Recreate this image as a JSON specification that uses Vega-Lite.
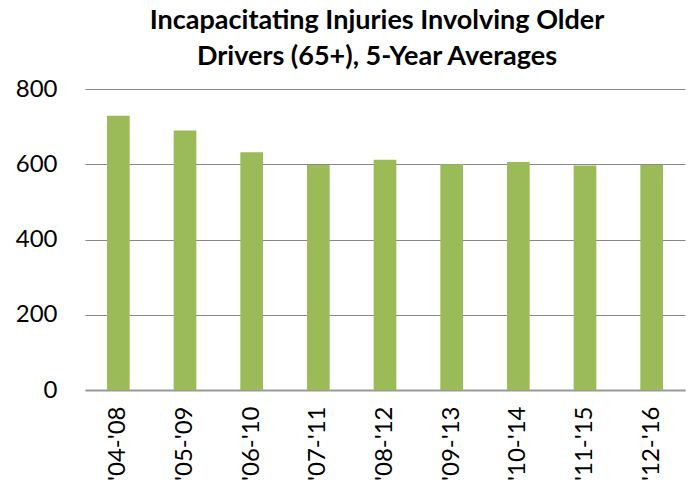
{
  "$schema": "https://vega.github.io/schema/vega-lite/v6.json",
  "autosize": "none",
  "width": 600,
  "height": 301,
  "padding": {"left": 85, "top": 89, "right": 5, "bottom": 96},
  "background": "white",
  "title": {
    "text": ["Incapacitating Injuries Involving Older", "Drivers (65+), 5-Year Averages"],
    "font": "Lato",
    "fontWeight": "bold",
    "fontSize": 27,
    "color": "#000000",
    "anchor": "middle",
    "frame": "group",
    "lineHeight": 36,
    "offset": 6,
    "dx": -8
  },
  "data": {
    "values": [
      {"period": "'04-'08", "value": 729},
      {"period": "'05-'09", "value": 690},
      {"period": "'06-'10", "value": 632},
      {"period": "'07-'11", "value": 598},
      {"period": "'08-'12", "value": 612},
      {"period": "'09-'13", "value": 600},
      {"period": "'10-'14", "value": 606},
      {"period": "'11-'15", "value": 597},
      {"period": "'12-'16", "value": 598}
    ]
  },
  "mark": {"type": "bar", "color": "#9BBB59"},
  "encoding": {
    "x": {
      "field": "period",
      "type": "nominal",
      "sort": null,
      "title": null,
      "scale": {"paddingInner": 0.66, "paddingOuter": 0.33},
      "axis": {
        "labelAngle": -90,
        "labelFont": "Lato",
        "labelFontSize": 24,
        "labelColor": "#000000",
        "labelPadding": 16,
        "ticks": false,
        "domainColor": "#999999",
        "domainWidth": 2
      }
    },
    "y": {
      "field": "value",
      "type": "quantitative",
      "title": null,
      "scale": {"domain": [0, 800]},
      "axis": {
        "values": [0, 200, 400, 600, 800],
        "labelFont": "Lato",
        "labelFontSize": 24,
        "labelColor": "#000000",
        "labelPadding": 28,
        "ticks": false,
        "domain": false,
        "gridColor": "#888888",
        "gridWidth": 1
      }
    }
  },
  "config": {"view": {"stroke": null}}
}
